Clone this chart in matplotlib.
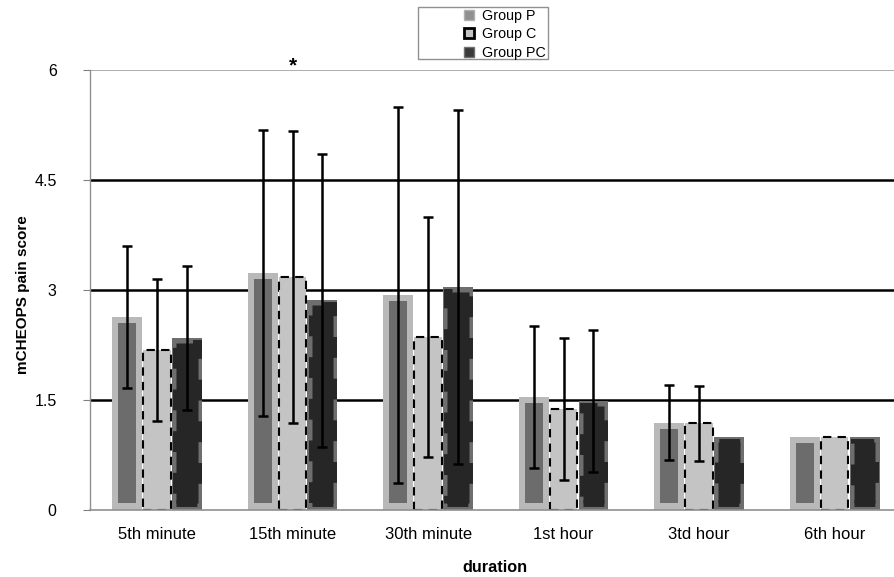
import matplotlib
matplotlib.use("Agg")
import matplotlib.pyplot as plt
import numpy as np
from matplotlib.lines import Line2D
from matplotlib.patches import Rectangle

plt.rcParams['font.family'] = ['Liberation Sans', 'DejaVu Sans']

categories = ["5th minute", "15th minute", "30th minute", "1st hour", "3td hour", "6th hour"]
group_names = ["Group P", "Group C", "Group PC"]
mean_p = [2.63, 3.23, 2.93, 1.54, 1.19, 1.00]
mean_c = [2.18, 3.18, 2.36, 1.38, 1.18, 1.00]
mean_pc = [2.35, 2.86, 3.04, 1.49, 1.00, 1.00]
sd_p = [0.97, 1.95, 2.56, 0.97, 0.51, 0.0]
sd_c = [0.97, 1.99, 1.64, 0.97, 0.51, 0.0]
sd_pc = [0.98, 2.00, 2.41, 0.97, 0.0, 0.0]
yticks = [0, 1.5, 3, 4.5, 6]
ytick_labels = ["0", "1.5", "3", "4.5", "6"]

W, H = 895, 577
fig = plt.figure(figsize=(W / 100, H / 100), dpi=100)
ax = fig.add_axes([90 / W, 67 / H, 0.92, 440 / H])

x = np.arange(len(categories))
w = 0.22
xp, xc, xpc = x - w, x, x + w

# gridlines
for yv in [1.5, 3, 4.5]:
    ax.axhline(yv, color='black', lw=1.8, zorder=0)
ax.axhline(6, color='#a0a0a0', lw=1.2, zorder=0)

# Group P: light outer, darker inner
mp = np.array(mean_p)
ax.bar(xp, mp, width=w, color='#b9b9b9', edgecolor='none', zorder=2)
ax.bar(xp, mp - 0.17, bottom=0.09, width=w * 0.6, color='#6c6c6c', edgecolor='none', zorder=3)

# Group C: light gray with dashed black border
mc = np.array(mean_c)
ax.bar(xc, mc, width=w * 0.92, color='#c4c4c4', edgecolor='black', linestyle=(0, (4, 3)), lw=1.5, zorder=2)

# Group PC: gray outer with jagged dark inner
mpc = np.array(mean_pc)
ax.bar(xpc, mpc, width=w, color='#6e6e6e', edgecolor='none', zorder=2)
ax.bar(xpc, mpc - 0.16, bottom=0.09, width=w * 0.72, color='#262626', edgecolor='#262626',
       linestyle=(0, (3, 3)), lw=5, zorder=3)

# error bars
for xs, m, s in [(xp, mean_p, sd_p), (xc, mean_c, sd_c), (xpc, mean_pc, sd_pc)]:
    m = np.array(m); s = np.array(s)
    mask = s > 0
    ax.errorbar(xs[mask], m[mask], yerr=s[mask], fmt='none', ecolor='black',
                elinewidth=1.8, capsize=3.8, capthick=1.8, zorder=5)

ax.set_xlim(-0.494, 5.58)
ax.set_ylim(0, 6)
ax.set_yticks(yticks)
ax.set_yticklabels(ytick_labels, fontsize=11.5)
ax.set_xticks(x)
ax.set_xticklabels(categories, fontsize=12)
ax.tick_params(axis='x', length=0, pad=12)
ax.tick_params(axis='y', length=5, color='#808080', pad=19)
for sp in ['top', 'right']:
    ax.spines[sp].set_visible(False)
ax.spines['left'].set_color('#909090')
ax.spines['bottom'].set_color('#909090')
ax.spines['left'].set_linewidth(1.0)
ax.spines['bottom'].set_linewidth(1.2)

ax.set_ylabel("mCHEOPS pain score", fontsize=11, fontweight='bold')
ax.yaxis.set_label_coords(-60 / 823, 0.49)
ax.set_xlabel("duration", fontsize=11.7, fontweight='bold')
ax.xaxis.set_label_coords((495 - 90) / (0.92 * W), -(567 - 510) / 440)
ax.xaxis.label.set_va('center')

# significance asterisk
ax.text(x[1], 6.05, "*", ha='center', va='center', fontsize=15, fontweight='bold', clip_on=False)

handles = [
    Line2D([], [], marker='s', ls='none', markersize=6.5, markerfacecolor='#909090', markeredgecolor='#b0b0b0'),
    Line2D([], [], marker='s', ls='none', markersize=6.5, markerfacecolor='#c4c4c4', markeredgecolor='black', markeredgewidth=2),
    Line2D([], [], marker='s', ls='none', markersize=6.5, markerfacecolor='#3a3a3a', markeredgecolor='#707070'),
]
leg = fig.legend(handles, group_names, loc='upper left', bbox_to_anchor=(450 / W, 1 + 1 / H),
                 fontsize=10.3, frameon=False,
                 handletextpad=0.35, labelspacing=0.3, borderpad=0.2, handlelength=1.2)
fig.patches.append(Rectangle((418 / W, 1 - 59 / H), 130 / W, 52 / H, transform=fig.transFigure,
                             facecolor='none', edgecolor='#909090', lw=1.0))

fig.savefig("out.png", dpi=100)
